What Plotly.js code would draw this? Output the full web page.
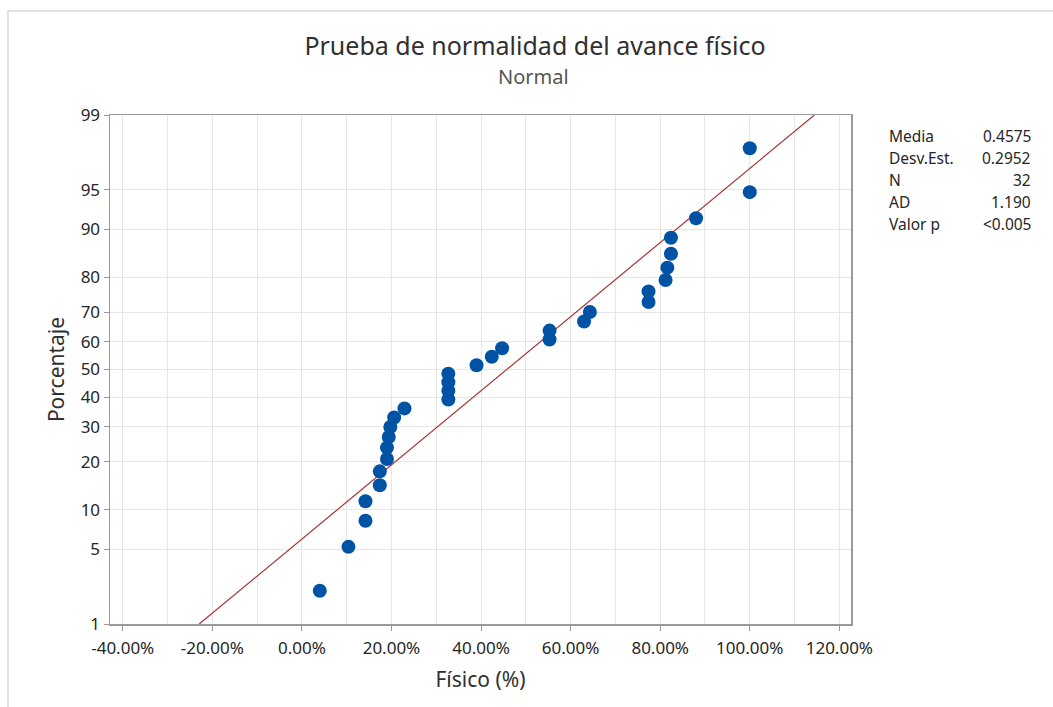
<!DOCTYPE html>
<html>
<head>
<meta charset="utf-8">
<script src="https://cdn.plot.ly/plotly-3.0.1.min.js"></script>
<style>
  html, body { margin: 0; padding: 0; background: #fff; }
  #frame { position: absolute; left: 7px; top: 10px; width: 1100px; height: 800px;
           border-top: 2px solid #e2e2e2; border-left: 2px solid #e2e2e2; }
  #chart { position: absolute; left: 0; top: 0; width: 1053px; height: 707px; }
</style>
</head>
<body>
<div id="frame"></div>
<div id="chart"></div>
<script>
// Observed values (fraction) and their plotted percentages (probability positions)
const fisico = [0.040, 0.104, 0.142, 0.142, 0.174, 0.174, 0.190, 0.190, 0.194, 0.1975,
                0.206, 0.229, 0.327, 0.327, 0.327, 0.327, 0.390, 0.424, 0.447, 0.553,
                0.553, 0.630, 0.643, 0.774, 0.774, 0.812, 0.816, 0.824, 0.824, 0.880,
                1.000, 1.000];
const porcentaje = [2.16, 5.25, 8.33, 11.42, 14.51, 17.59, 20.68, 23.77, 26.85, 29.94,
                    33.02, 36.11, 39.20, 42.28, 45.37, 48.46, 51.54, 54.63, 57.72, 60.80,
                    63.89, 66.98, 70.06, 73.15, 76.23, 79.32, 82.41, 85.49, 88.58, 91.67,
                    94.75, 97.84];
// Fitted normal parameters (from the stats table)
const media = 0.4575;
const desvEst = 0.2952;
const statLabels = ["Media", "Desv.Est.", "N", "AD", "Valor p"];
const statValues = ["0.4575", "0.2952", "32", "1.190", "<0.005"];
// Axis ticks
const yTickPct = [1, 5, 10, 20, 30, 40, 50, 60, 70, 80, 90, 95, 99];
const xTickVals = [-0.4, -0.2, 0, 0.2, 0.4, 0.6, 0.8, 1.0, 1.2];
const xTickText = ["-40.00%", "-20.00%", "0.00%", "20.00%", "40.00%", "60.00%", "80.00%", "100.00%", "120.00%"];
const lineEndsPct = [1, 99];

// inverse standard normal CDF (Acklam)
function norminv(p) {
  const a = [-3.969683028665376e+01, 2.209460984245205e+02, -2.759285104469687e+02, 1.383577518672690e+02, -3.066479806614716e+01, 2.506628277459239e+00];
  const b = [-5.447609879822406e+01, 1.615858368580409e+02, -1.556989798598866e+02, 6.680131188771972e+01, -1.328068155288572e+01];
  const c = [-7.784894002430293e-03, -3.223964580411365e-01, -2.400758277161838e+00, -2.549732539343734e+00, 4.374664141464968e+00, 2.938163982698783e+00];
  const d = [7.784695709041462e-03, 3.224671290700398e-01, 2.445134137142996e+00, 3.754408661907416e+00];
  const pl = 0.02425, ph = 1 - pl;
  let q, r;
  if (p < pl) {
    q = Math.sqrt(-2 * Math.log(p));
    return (((((c[0]*q+c[1])*q+c[2])*q+c[3])*q+c[4])*q+c[5]) / ((((d[0]*q+d[1])*q+d[2])*q+d[3])*q+1);
  } else if (p <= ph) {
    q = p - 0.5; r = q * q;
    return (((((a[0]*r+a[1])*r+a[2])*r+a[3])*r+a[4])*r+a[5])*q / (((((b[0]*r+b[1])*r+b[2])*r+b[3])*r+b[4])*r+1);
  } else {
    q = Math.sqrt(-2 * Math.log(1 - p));
    return -(((((c[0]*q+c[1])*q+c[2])*q+c[3])*q+c[4])*q+c[5]) / ((((d[0]*q+d[1])*q+d[2])*q+d[3])*q+1);
  }
}
const zOf = pct => norminv(pct / 100);

const lineZ = lineEndsPct.map(zOf);
const lineX = lineZ.map(z => media + desvEst * z);

const FONT = "'Noto Sans', 'Open Sans', sans-serif";
const TXT = '#262626';
const traces = [
  {
    x: lineX, y: lineZ, mode: 'lines', type: 'scatter',
    line: { color: '#A83232', width: 1.2 }, hoverinfo: 'skip'
  },
  {
    x: fisico, y: porcentaje.map(zOf), mode: 'markers', type: 'scatter',
    marker: { color: '#0052A5', size: 14 }
  }
];

const annotations = [
  { text: 'Normal', xref: 'paper', yref: 'paper', x: (533 - 110) / 741, y: 1 + (115 - 76) / 509,
    showarrow: false, xanchor: 'center', yanchor: 'middle', font: { family: FONT, size: 20, color: '#555' } }
];
statLabels.forEach((t, i) => {
  annotations.push({ text: t, xref: 'paper', yref: 'paper', x: (887 - 110) / 741, y: 1 - (136 + i * 22 - 115) / 509,
    showarrow: false, xanchor: 'left', yanchor: 'middle', font: { family: FONT, size: 15.5, color: TXT } });
  annotations.push({ text: statValues[i], xref: 'paper', yref: 'paper', x: (1033 - 110) / 741, y: 1 - (136 + i * 22 - 115) / 509,
    showarrow: false, xanchor: 'right', yanchor: 'middle', font: { family: FONT, size: 15.5, color: TXT } });
});

const layout = {
  width: 1053, height: 707,
  margin: { l: 110, r: 202, t: 115, b: 83 },
  paper_bgcolor: 'rgba(0,0,0,0)', plot_bgcolor: '#fff',
  showlegend: false,
  font: { family: FONT, color: TXT },
  title: { text: 'Prueba de normalidad del avance físico', xref: 'container', yref: 'container',
           x: 535 / 1053, y: 1 - 46 / 707, xanchor: 'center', yanchor: 'middle',
           font: { family: FONT, size: 25, color: '#303030' } },
  xaxis: {
    range: [-0.4284, 1.226], tickvals: xTickVals, ticktext: xTickText,
    showgrid: true, gridcolor: '#e6e6e6', gridwidth: 1,
    minor: { dtick: 0.1, tick0: 0, showgrid: true, gridcolor: '#e6e6e6', gridwidth: 1 },
    zeroline: false, showline: true, mirror: true, linecolor: '#9a9a9a', linewidth: 1.5,
    ticks: 'outside', ticklen: 5, tickcolor: '#9a9a9a', ticklabelstandoff: 3,
    tickfont: { family: FONT, size: 17, color: TXT },
    title: { text: 'Físico (%)', font: { family: FONT, size: 21, color: '#303030' }, standoff: 14 }
  },
  yaxis: {
    range: [zOf(1), zOf(99)], tickvals: yTickPct.map(zOf), ticktext: yTickPct.map(String),
    showgrid: true, gridcolor: '#e6e6e6', gridwidth: 1,
    zeroline: false, showline: true, mirror: true, linecolor: '#9a9a9a', linewidth: 1.5,
    ticks: 'outside', ticklen: 5, tickcolor: '#9a9a9a',
    tickfont: { family: FONT, size: 17, color: TXT },
    title: { text: 'Porcentaje', font: { family: FONT, size: 21, color: '#303030' }, standoff: 10 }
  },
  annotations: annotations
};

Plotly.newPlot('chart', traces, layout, { displayModeBar: false, staticPlot: true });
</script>
</body>
</html>
